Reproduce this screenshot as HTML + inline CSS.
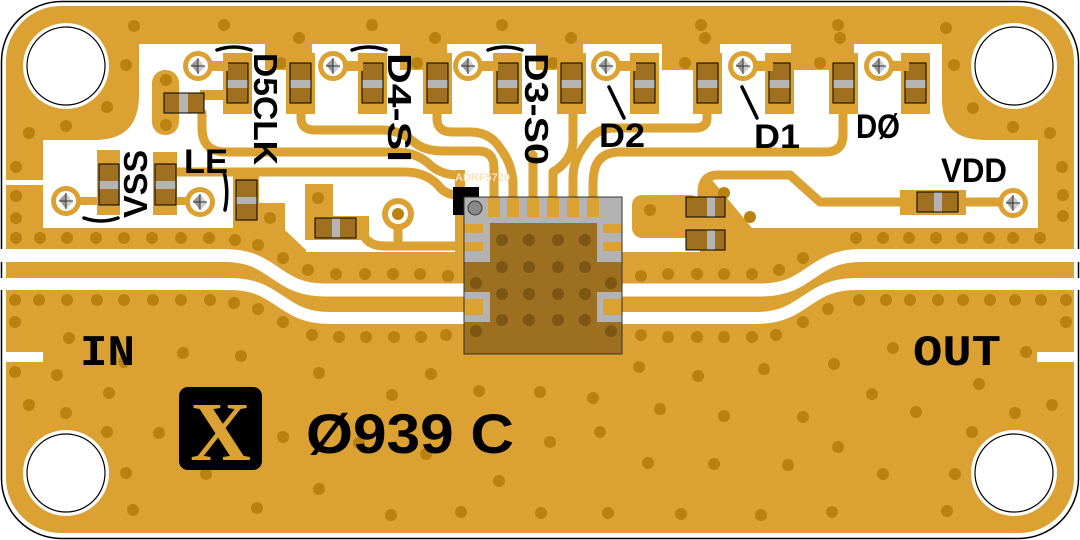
<!DOCTYPE html>
<html><head><meta charset="utf-8"><style>
html,body{margin:0;padding:0;background:#fff;}
svg{display:block;}
.v{fill:#B98210;}
.cv{fill:#7E5614;}
.t{fill:none;stroke:#DBA133;stroke-width:9;stroke-linecap:round;stroke-linejoin:round;}
.w{fill:none;stroke:#fff;}
.lbl{font-family:"Liberation Sans",sans-serif;font-weight:bold;fill:#000;}
.res{fill:#9E7020;stroke:#000;stroke-width:1;}
.band{fill:#B4B4B4;}
</style></head><body>
<svg width="1080" height="540" viewBox="0 0 1080 540" xmlns="http://www.w3.org/2000/svg">
<rect x="1.5" y="1.5" width="1077" height="537" rx="60" fill="#fff" stroke="#000" stroke-width="1.5"/>
<rect x="6" y="6" width="1068" height="527" rx="55" fill="#DBA133"/>

<path d="M139,44 H942 V100 Q942,140 985,140 H1038 V228 H745 V252 H285 V228 H43 V140 H95 Q139,140 139,95 Z" fill="#fff"/>
<rect x="5" y="180" width="38" height="5" fill="#fff"/>

<g fill="#DBA133">
<rect x="265" y="40" width="47" height="30"/>
<rect x="400" y="40" width="47" height="30"/>
<rect x="536" y="40" width="47" height="30"/>
<rect x="662" y="40" width="58" height="30"/>
<rect x="791" y="40" width="63" height="30"/>
<rect x="152" y="70" width="27" height="65" rx="13"/>
<rect x="200" y="90" width="28" height="10"/>
<rect x="97" y="150" width="23" height="65"/>
<rect x="153" y="152" width="24" height="63"/>
<rect x="66" y="197" width="34" height="8"/>
<rect x="175" y="197" width="25" height="8"/>
<rect x="233" y="176" width="26" height="50"/>
<path d="M6,228 H233 V203 H285 V230 L306,250 V252 H6 Z"/>
<rect x="305" y="184" width="28" height="56"/>
<rect x="333" y="216" width="36" height="24"/>
<path d="M700,180 H712 L752,228 H1074 V258 H700 Z"/>
<rect x="632" y="195" width="68" height="43" rx="10"/>
<rect x="900" y="190" width="66" height="25"/>
<rect x="455" y="170" width="10" height="82"/>
</g>

<path class="t" d="M202,113 V128 Q202,152 226,152 H395 Q415,152 428,163 Q440,175 458,175"/>
<path class="t" d="M165,163 V172 H405 Q425,172 438,185 Q445,195 458,195"/>
<path class="t" d="M301,110 V118 Q301,130 315,130 H382 Q400,130 414,142 Q424,151 444,151 H478 Q494,151 494,168 V210"/>
<path class="t" d="M437,110 V118 Q437,132 452,132 H470 Q490,132 500,148 Q513,165 513,185 V210"/>
<path class="t" d="M573,110 V140 Q573,160 553,172 V210"/>
<path class="t" d="M707,110 V118 Q707,128 695,128 H615 Q595,128 585,145 Q573,160 573,178 V210"/>
<path class="t" d="M843,110 V135 Q843,152 825,152 H620 Q600,152 595,168 Q593,175 593,185 V210"/>
<path class="t" d="M533,155 V210"/>
<path class="t" d="M917,202 H820 L790,175 H718 Q702,175 702,192 V207"/>
<path class="t" d="M958,202 H1012"/>
<path class="t" d="M362,230 Q365,246 385,246 H464"/>
<path class="t" d="M398,214 V244"/>

<path class="w" stroke-width="13" d="M0,255.5 H225 C275,255.5 275,290 325,290 H466"/>
<path class="w" stroke-width="12" d="M0,284 H230 C280,284 280,318 330,318 H466"/>
<path class="w" stroke-width="13" d="M1080,255.5 H861 C811,255.5 811,290 761,290 H620"/>
<path class="w" stroke-width="12" d="M1080,284 H856 C806,284 806,318 756,318 H620"/>
<rect x="5" y="352" width="38" height="10" fill="#fff"/>
<rect x="1037" y="352" width="38" height="10" fill="#fff"/>

<g fill="#fff" stroke="#000" stroke-width="1.2">
<circle cx="66" cy="66" r="43" stroke="none"/><circle cx="66" cy="66" r="39"/>
<circle cx="1014" cy="66" r="43" stroke="none"/><circle cx="1014" cy="66" r="39"/>
<circle cx="66" cy="473" r="43" stroke="none"/><circle cx="66" cy="473" r="39"/>
<circle cx="1014" cy="473" r="43" stroke="none"/><circle cx="1014" cy="473" r="39"/>
</g>

<g class="v">
<circle cx="134" cy="26" r="6"/><circle cx="224" cy="25" r="6"/><circle cx="372" cy="25" r="6"/><circle cx="502" cy="25" r="6"/><circle cx="701" cy="25" r="6"/><circle cx="838" cy="25" r="6"/><circle cx="946" cy="28" r="6"/>
<circle cx="299" cy="38" r="6"/><circle cx="435" cy="38" r="6"/><circle cx="571" cy="38" r="6"/><circle cx="705" cy="38" r="6"/><circle cx="840" cy="38" r="6"/>
<circle cx="281" cy="63" r="6"/><circle cx="417" cy="63" r="6"/><circle cx="553" cy="63" r="6"/><circle cx="685" cy="63" r="6"/><circle cx="820" cy="63" r="6"/>
<circle cx="126" cy="65" r="6"/><circle cx="107" cy="107" r="6"/><circle cx="66" cy="126" r="6"/><circle cx="29" cy="133" r="6"/><circle cx="16" cy="167" r="6"/>
<circle cx="954" cy="65" r="6"/><circle cx="973" cy="108" r="6"/><circle cx="1013" cy="127" r="6"/><circle cx="1050" cy="133" r="6"/><circle cx="1062" cy="167" r="6"/>
<circle cx="166" cy="80" r="6"/><circle cx="166" cy="125" r="6"/>
<circle cx="16" cy="196" r="6"/><circle cx="16" cy="218" r="6"/><circle cx="1063" cy="195" r="6"/><circle cx="1063" cy="216" r="6"/>
<circle cx="16" cy="238" r="6"/><circle cx="40" cy="238" r="6"/><circle cx="67" cy="238" r="6"/><circle cx="96" cy="238" r="6"/><circle cx="124" cy="238" r="6"/><circle cx="152" cy="238" r="6"/><circle cx="181" cy="238" r="6"/><circle cx="209" cy="238" r="6"/><circle cx="235" cy="240" r="6"/><circle cx="258" cy="245" r="6"/><circle cx="270" cy="218" r="6"/><circle cx="318" cy="198" r="6"/>
<circle cx="856" cy="238" r="6"/><circle cx="883" cy="238" r="6"/><circle cx="909" cy="238" r="6"/><circle cx="936" cy="238" r="6"/><circle cx="962" cy="238" r="6"/><circle cx="989" cy="238" r="6"/><circle cx="1013" cy="238" r="6"/><circle cx="1040" cy="238" r="6"/>
<circle cx="724" cy="193" r="6"/><circle cx="750" cy="217" r="6"/><circle cx="650" cy="210" r="6"/>
<circle cx="283" cy="258" r="6"/><circle cx="308" cy="270" r="6"/><circle cx="336" cy="274" r="6"/><circle cx="365" cy="274" r="6"/><circle cx="393" cy="274" r="6"/><circle cx="420" cy="274" r="6"/><circle cx="448" cy="276" r="6"/>
<circle cx="641" cy="276" r="6"/><circle cx="668" cy="274" r="6"/><circle cx="697" cy="274" r="6"/><circle cx="724" cy="274" r="6"/><circle cx="752" cy="274" r="6"/><circle cx="779" cy="270" r="6"/><circle cx="803" cy="258" r="6"/>
<circle cx="258" cy="309" r="6"/><circle cx="283" cy="322" r="6"/><circle cx="312" cy="335" r="6"/><circle cx="339" cy="337" r="6"/><circle cx="366" cy="337" r="6"/><circle cx="394" cy="337" r="6"/><circle cx="421" cy="337" r="6"/><circle cx="446" cy="335" r="6"/>
<circle cx="641" cy="335" r="6"/><circle cx="668" cy="337" r="6"/><circle cx="697" cy="337" r="6"/><circle cx="724" cy="337" r="6"/><circle cx="752" cy="337" r="6"/><circle cx="776" cy="335" r="6"/><circle cx="803" cy="322" r="6"/><circle cx="828" cy="309" r="6"/>
<circle cx="15" cy="300" r="6"/><circle cx="39" cy="300" r="6"/><circle cx="67" cy="300" r="6"/><circle cx="97" cy="300" r="6"/><circle cx="124" cy="300" r="6"/><circle cx="153" cy="300" r="6"/><circle cx="181" cy="300" r="6"/><circle cx="210" cy="300" r="6"/><circle cx="234" cy="303" r="6"/>
<circle cx="859" cy="300" r="6"/><circle cx="886" cy="300" r="6"/><circle cx="910" cy="300" r="6"/><circle cx="938" cy="300" r="6"/><circle cx="963" cy="300" r="6"/><circle cx="990" cy="300" r="6"/><circle cx="1015" cy="300" r="6"/><circle cx="1041" cy="300" r="6"/><circle cx="1066" cy="300" r="6"/>
<circle cx="15" cy="322" r="6"/><circle cx="1066" cy="322" r="6"/>
<circle cx="69" cy="338" r="6"/><circle cx="183" cy="353" r="6"/><circle cx="241" cy="356" r="6"/><circle cx="124" cy="362" r="6"/><circle cx="319" cy="373" r="6"/><circle cx="431" cy="374" r="6"/><circle cx="479" cy="391" r="6"/><circle cx="540" cy="392" r="6"/><circle cx="593" cy="398" r="6"/><circle cx="639" cy="367" r="6"/><circle cx="698" cy="376" r="6"/><circle cx="764" cy="369" r="6"/><circle cx="834" cy="364" r="6"/><circle cx="893" cy="348" r="6"/><circle cx="1026" cy="352" r="6"/>
<circle cx="15" cy="372" r="6"/><circle cx="57" cy="375" r="6"/><circle cx="109" cy="393" r="6"/><circle cx="29" cy="405" r="6"/><circle cx="66" cy="413" r="6"/><circle cx="392" cy="395" r="6"/><circle cx="107" cy="432" r="6"/><circle cx="159" cy="433" r="6"/><circle cx="283" cy="437" r="6"/><circle cx="359" cy="443" r="6"/><circle cx="426" cy="454" r="6"/><circle cx="550" cy="442" r="6"/><circle cx="600" cy="432" r="6"/><circle cx="660" cy="409" r="6"/><circle cx="724" cy="416" r="6"/><circle cx="803" cy="417" r="6"/><circle cx="872" cy="394" r="6"/><circle cx="916" cy="412" r="6"/><circle cx="979" cy="384" r="6"/><circle cx="1015" cy="413" r="6"/><circle cx="1052" cy="405" r="6"/><circle cx="972" cy="432" r="6"/><circle cx="838" cy="447" r="6"/><circle cx="648" cy="463" r="6"/><circle cx="714" cy="464" r="6"/><circle cx="788" cy="465" r="6"/><circle cx="883" cy="474" r="6"/><circle cx="955" cy="474" r="6"/><circle cx="126" cy="473" r="6"/><circle cx="206" cy="474" r="6"/><circle cx="319" cy="489" r="6"/><circle cx="499" cy="481" r="6"/>
<circle cx="133" cy="510" r="6"/><circle cx="257" cy="508" r="6"/><circle cx="391" cy="515" r="6"/><circle cx="461" cy="512" r="6"/><circle cx="541" cy="513" r="6"/><circle cx="608" cy="513" r="6"/><circle cx="681" cy="514" r="6"/><circle cx="761" cy="515" r="6"/><circle cx="832" cy="512" r="6"/><circle cx="947" cy="511" r="6"/>
</g>

<circle cx="398" cy="214" r="16" fill="#DBA133"/><circle cx="398" cy="214" r="10" fill="#fff"/><circle cx="398" cy="214" r="6" fill="#B98210"/>

<g fill="#DBA133">
<rect x="223" y="53" width="29" height="61"/><rect x="286" y="53" width="29" height="61"/>
<rect x="358" y="53" width="29" height="61"/><rect x="423" y="53" width="29" height="61"/>
<rect x="493" y="53" width="29" height="61"/><rect x="557" y="53" width="29" height="61"/>
<rect x="630" y="53" width="29" height="61"/><rect x="693" y="53" width="29" height="61"/>
<rect x="765" y="53" width="29" height="61"/><rect x="829" y="53" width="29" height="61"/>
<rect x="901" y="53" width="29" height="61"/>
</g>
<g>
<rect class="res" x="227" y="63" width="21" height="40"/><rect class="band" x="227.5" y="80" width="20" height="8"/>
<rect class="res" x="290" y="63" width="21" height="40"/><rect class="band" x="290.5" y="80" width="20" height="8"/>
<rect class="res" x="362" y="63" width="21" height="40"/><rect class="band" x="362.5" y="80" width="20" height="8"/>
<rect class="res" x="427" y="63" width="21" height="40"/><rect class="band" x="427.5" y="80" width="20" height="8"/>
<rect class="res" x="497" y="63" width="21" height="40"/><rect class="band" x="497.5" y="80" width="20" height="8"/>
<rect class="res" x="561" y="63" width="21" height="40"/><rect class="band" x="561.5" y="80" width="20" height="8"/>
<rect class="res" x="634" y="63" width="21" height="40"/><rect class="band" x="634.5" y="80" width="20" height="8"/>
<rect class="res" x="697" y="63" width="21" height="40"/><rect class="band" x="697.5" y="80" width="20" height="8"/>
<rect class="res" x="769" y="63" width="21" height="40"/><rect class="band" x="769.5" y="80" width="20" height="8"/>
<rect class="res" x="833" y="63" width="21" height="40"/><rect class="band" x="833.5" y="80" width="20" height="8"/>
<rect class="res" x="905" y="63" width="21" height="40"/><rect class="band" x="905.5" y="80" width="20" height="8"/>
<rect class="res" x="164" y="93" width="40" height="20"/><rect class="band" x="179" y="93.5" width="9" height="19"/>
<rect class="res" x="99" y="164" width="20" height="41"/><rect class="band" x="99.5" y="181" width="19" height="8"/>
<rect class="res" x="155" y="164" width="21" height="41"/><rect class="band" x="155.5" y="181" width="20" height="8"/>
<rect class="res" x="236" y="180" width="21" height="40"/><rect class="band" x="236.5" y="197" width="20" height="7"/>
<rect class="res" x="315" y="218" width="41" height="20"/><rect class="band" x="332" y="218.5" width="8" height="19"/>
<rect class="res" x="686" y="197" width="39" height="20"/><rect class="band" x="707" y="197.5" width="8" height="19"/>
<rect class="res" x="686" y="230" width="39" height="20"/><rect class="band" x="707" y="230.5" width="8" height="19"/>
<rect class="res" x="917" y="192" width="41" height="20"/><rect class="band" x="934" y="192.5" width="8" height="19"/>
</g>

<g>
<g transform="translate(198,66)"><rect x="0" y="-5" width="30" height="10" fill="#DBA133"/><circle r="15" fill="#DBA133"/><circle r="10" fill="#fff"/><path d="M-7,-1 L0,-8 V8 Z" fill="#999"/><path d="M7,1 L0,-8 V8 Z" fill="#ccc"/><path d="M0,-8 V8 M-7,0 H7" stroke="#333" stroke-width="1"/></g>
<g transform="translate(333,66)"><rect x="0" y="-5" width="30" height="10" fill="#DBA133"/><circle r="15" fill="#DBA133"/><circle r="10" fill="#fff"/><path d="M-7,-1 L0,-8 V8 Z" fill="#999"/><path d="M7,1 L0,-8 V8 Z" fill="#ccc"/><path d="M0,-8 V8 M-7,0 H7" stroke="#333" stroke-width="1"/></g>
<g transform="translate(468,66)"><rect x="0" y="-5" width="30" height="10" fill="#DBA133"/><circle r="15" fill="#DBA133"/><circle r="10" fill="#fff"/><path d="M-7,-1 L0,-8 V8 Z" fill="#999"/><path d="M7,1 L0,-8 V8 Z" fill="#ccc"/><path d="M0,-8 V8 M-7,0 H7" stroke="#333" stroke-width="1"/></g>
<g transform="translate(606,66)"><rect x="0" y="-5" width="30" height="10" fill="#DBA133"/><circle r="15" fill="#DBA133"/><circle r="10" fill="#fff"/><path d="M-7,-1 L0,-8 V8 Z" fill="#999"/><path d="M7,1 L0,-8 V8 Z" fill="#ccc"/><path d="M0,-8 V8 M-7,0 H7" stroke="#333" stroke-width="1"/></g>
<g transform="translate(743,66)"><rect x="0" y="-5" width="30" height="10" fill="#DBA133"/><circle r="15" fill="#DBA133"/><circle r="10" fill="#fff"/><path d="M-7,-1 L0,-8 V8 Z" fill="#999"/><path d="M7,1 L0,-8 V8 Z" fill="#ccc"/><path d="M0,-8 V8 M-7,0 H7" stroke="#333" stroke-width="1"/></g>
<g transform="translate(879,66)"><rect x="0" y="-5" width="30" height="10" fill="#DBA133"/><circle r="15" fill="#DBA133"/><circle r="10" fill="#fff"/><path d="M-7,-1 L0,-8 V8 Z" fill="#999"/><path d="M7,1 L0,-8 V8 Z" fill="#ccc"/><path d="M0,-8 V8 M-7,0 H7" stroke="#333" stroke-width="1"/></g>
<g transform="translate(66,201)"><circle r="15" fill="#DBA133"/><circle r="10" fill="#fff"/><path d="M-7,-1 L0,-8 V8 Z" fill="#999"/><path d="M7,1 L0,-8 V8 Z" fill="#ccc"/><path d="M0,-8 V8 M-7,0 H7" stroke="#333" stroke-width="1"/></g>
<g transform="translate(200,202)"><circle r="15" fill="#DBA133"/><circle r="10" fill="#fff"/><path d="M-7,-1 L0,-8 V8 Z" fill="#999"/><path d="M7,1 L0,-8 V8 Z" fill="#ccc"/><path d="M0,-8 V8 M-7,0 H7" stroke="#333" stroke-width="1"/></g>
<g transform="translate(1013,203)"><circle r="15" fill="#DBA133"/><circle r="10" fill="#fff"/><path d="M-7,-1 L0,-8 V8 Z" fill="#999"/><path d="M7,1 L0,-8 V8 Z" fill="#ccc"/><path d="M0,-8 V8 M-7,0 H7" stroke="#333" stroke-width="1"/></g>
</g>

<rect x="453" y="187" width="26" height="28" fill="#000"/>
<rect x="464" y="197" width="158" height="157" fill="#9C6F21" stroke="#333" stroke-width="1"/>
<path d="M464,197 H622 V262 H597 V223 H490 V262 H464 Z" fill="#B3B3B3"/>
<g fill="#B3B3B3"><rect x="464" y="292" width="26" height="30"/><rect x="597" y="292" width="25" height="30"/></g>
<g fill="#DBA133">
<rect x="488" y="197" width="12" height="20"/><rect x="507" y="197" width="12" height="20"/><rect x="527" y="197" width="12" height="20"/><rect x="547" y="197" width="12" height="20"/><rect x="567" y="197" width="12" height="20"/><rect x="587" y="197" width="12" height="20"/>
<rect x="464" y="224" width="19" height="9"/><rect x="464" y="242" width="19" height="9"/>
<rect x="603" y="224" width="19" height="9"/><rect x="603" y="242" width="19" height="9"/>
<rect x="464" y="299" width="19" height="16"/><rect x="603" y="299" width="19" height="16"/>
</g>
<rect x="490" y="223" width="107" height="131" fill="#9C6F21"/>
<rect x="464" y="322" width="158" height="32" fill="#9C6F21"/>
<rect x="464" y="262" width="26" height="30" fill="#9C6F21"/><rect x="597" y="262" width="25" height="30" fill="#9C6F21"/>
<rect x="464" y="197" width="158" height="157" fill="none" stroke="#333" stroke-width="1"/>
<circle cx="475" cy="208" r="7" fill="#888" stroke="#333" stroke-width="1"/>
<g class="cv">
<circle cx="502" cy="240" r="6"/><circle cx="529" cy="240" r="6"/><circle cx="558" cy="240" r="6"/><circle cx="585" cy="240" r="6"/>
<circle cx="502" cy="267" r="6"/><circle cx="529" cy="267" r="6"/><circle cx="558" cy="267" r="6"/><circle cx="585" cy="267" r="6"/>
<circle cx="502" cy="294" r="6"/><circle cx="529" cy="294" r="6"/><circle cx="558" cy="294" r="6"/><circle cx="585" cy="294" r="6"/>
<circle cx="502" cy="320" r="6"/><circle cx="529" cy="320" r="6"/><circle cx="558" cy="320" r="6"/><circle cx="585" cy="320" r="6"/>
<circle cx="476" cy="283" r="6"/><circle cx="611" cy="283" r="6"/><circle cx="476" cy="331" r="6"/><circle cx="611" cy="331" r="6"/>
</g>
<text x="455" y="181" font-family="Liberation Sans,sans-serif" font-weight="bold" font-size="11" fill="#F6E3B8">ADRF5720</text>

<g fill="none" stroke="#000" stroke-width="3.5" stroke-linecap="round">
<path d="M217,50 Q234,44 251,50"/><path d="M352,50 Q369,44 386,50"/><path d="M488,50 Q505,44 522,50"/>
<path d="M84,218 Q101,224 118,218"/>
<path d="M224,172 Q229,191 225,210"/>
<path d="M609,87 L624,118"/><path d="M742,87 L757,118"/>
</g>

<text class="lbl" font-size="33" transform="translate(254,53) rotate(90)" textLength="112" lengthAdjust="spacingAndGlyphs">D5CLK</text>
<text class="lbl" font-size="33" transform="translate(388,53) rotate(90)" textLength="109" lengthAdjust="spacingAndGlyphs">D4-SI</text>
<text class="lbl" font-size="33" transform="translate(525,53) rotate(90)" textLength="112" lengthAdjust="spacingAndGlyphs">D3-S0</text>
<text class="lbl" font-size="33" transform="translate(147,218) rotate(-90)" textLength="68" lengthAdjust="spacingAndGlyphs">VSS</text>
<text class="lbl" font-size="34" x="184" y="173" textLength="44" lengthAdjust="spacingAndGlyphs">LE</text>
<text class="lbl" font-size="34" x="599" y="147" textLength="46" lengthAdjust="spacingAndGlyphs">D2</text>
<text class="lbl" font-size="34" x="754" y="148" textLength="46" lengthAdjust="spacingAndGlyphs">D1</text>
<text class="lbl" font-size="34" x="856" y="138" textLength="44" lengthAdjust="spacingAndGlyphs">DØ</text>
<text class="lbl" font-size="34" x="941" y="182" textLength="66" lengthAdjust="spacingAndGlyphs">VDD</text>
<text x="80" y="365" font-family="Liberation Mono,monospace" font-weight="bold" font-size="44" textLength="55" lengthAdjust="spacingAndGlyphs" fill="#000">IN</text>
<text x="913" y="365" font-family="Liberation Mono,monospace" font-weight="bold" font-size="44" textLength="88" lengthAdjust="spacingAndGlyphs" fill="#000">OUT</text>
<rect x="179" y="387" width="83" height="83" rx="9" fill="#000"/>
<text x="220.5" y="460" text-anchor="middle" font-family="Liberation Serif,serif" font-weight="bold" font-size="84" fill="#DBA133">X</text>
<text class="lbl" x="306" y="453" font-size="56" textLength="208" lengthAdjust="spacingAndGlyphs">Ø939 C</text>
</svg>
</body></html>
